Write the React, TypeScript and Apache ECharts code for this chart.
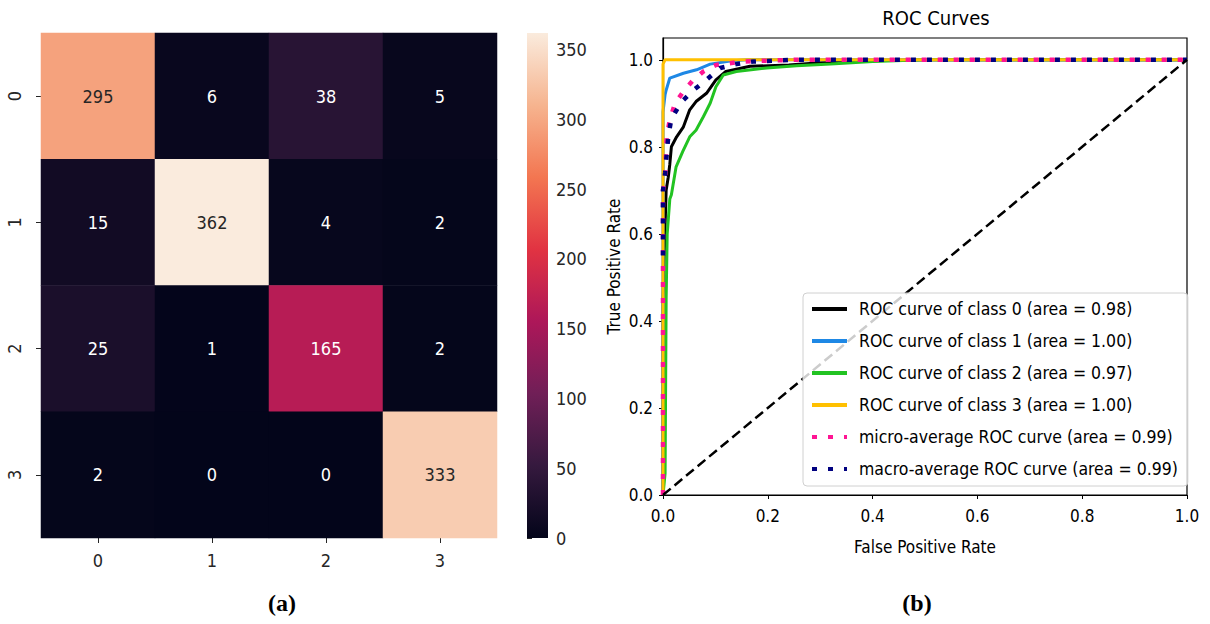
import React, { useEffect, useRef } from "react";
import * as echarts from "echarts";

// ---------- data ----------
const categories = ["0", "1", "2", "3"];
const confusion = [
  [295, 6, 38, 5],
  [15, 362, 4, 2],
  [25, 1, 165, 2],
  [2, 0, 0, 333],
];
const cbMax = 362;
const cbTicks = [0, 50, 100, 150, 200, 250, 300, 350];
const rocTicks = [0, 0.2, 0.4, 0.6, 0.8, 1.0];

const rocket = ["#03051A", "#35193E", "#701F57", "#AD1759", "#E13342", "#F37651", "#F6B48F", "#FAEBDD"];

const rocNames = [
  "ROC curve of class 0 (area = 0.98)",
  "ROC curve of class 1 (area = 1.00)",
  "ROC curve of class 2 (area = 0.97)",
  "ROC curve of class 3 (area = 1.00)",
  "micro-average ROC curve (area = 0.99)",
  "macro-average ROC curve (area = 0.99)",
];

const class0 = [[0, 0], [0, 0.45], [0.004, 0.62], [0.006, 0.70], [0.010, 0.73], [0.013, 0.76], [0.016, 0.80], [0.026, 0.823], [0.039, 0.846], [0.051, 0.885], [0.063, 0.904], [0.083, 0.923], [0.101, 0.954], [0.12, 0.973], [0.166, 0.985], [0.24, 0.988], [0.3, 0.993], [0.4, 0.998], [0.5, 1], [1, 1]];
const class1 = [[0, 0], [0, 0.88], [0.004, 0.92], [0.006, 0.93], [0.013, 0.958], [0.039, 0.969], [0.064, 0.977], [0.09, 0.99], [0.128, 0.997], [0.16, 1], [1, 1]];
const class2 = [[0, 0], [0.004, 0.05], [0.006, 0.45], [0.008, 0.6], [0.013, 0.68], [0.016, 0.69], [0.025, 0.754], [0.038, 0.79], [0.051, 0.823], [0.063, 0.838], [0.077, 0.869], [0.09, 0.90], [0.101, 0.938], [0.115, 0.965], [0.14, 0.973], [0.198, 0.981], [0.255, 0.986], [0.32, 0.99], [0.4, 0.996], [0.5, 1], [1, 1]];
const class3 = [[0, 0], [0, 0.99], [0.004, 1], [1, 1]];
const microAvg = [[0, 0], [0, 0.70], [0.004, 0.723], [0.007, 0.823], [0.013, 0.862], [0.023, 0.90], [0.039, 0.927], [0.058, 0.954], [0.077, 0.973], [0.101, 0.988], [0.152, 0.996], [0.25, 1], [1, 1]];
const macroAvg = [[0, 0.55], [0, 0.70], [0.004, 0.74], [0.01, 0.823], [0.016, 0.865], [0.036, 0.904], [0.058, 0.93], [0.083, 0.954], [0.109, 0.981], [0.14, 0.99], [0.172, 0.996], [0.25, 1], [1, 1]];
const diagonal = [[0, 0], [1, 1]];

const rocColors = ["#000000", "#1E88E5", "#22C322", "#FFC000", "#FF1493", "#000080"];

export default function App() {
  const ref = useRef<HTMLDivElement>(null);

  useEffect(() => {
    if (!ref.current) return;
    const chart = echarts.init(ref.current, undefined, { renderer: "svg" });
    const font = "'DejaVu Sans Condensed', 'Liberation Sans Narrow', 'DejaVu Sans'";
    const txt = "#262626";

    const heatData: any[] = [];
    confusion.forEach((row, r) =>
      row.forEach((v, c) => {
        heatData.push({
          value: [c, r, v],
          label: { color: v > 250 ? txt : "#ffffff" },
        });
      })
    );

    const rocData = [class0, class1, class2, class3, microAvg, macroAvg];
    const rocSeries: any[] = rocData.map((d, i) => ({
      name: rocNames[i],
      type: "line",
      xAxisIndex: 2,
      yAxisIndex: 2,
      data: d,
      symbol: "none",
      showSymbol: false,
      color: rocColors[i],
      lineStyle: i < 4
        ? { color: rocColors[i], width: 3 }
        : { color: rocColors[i], width: 4.5, type: [5, 11], cap: "butt" },
      z: 2,
    }));
    rocSeries.push({
      type: "line",
      xAxisIndex: 2,
      yAxisIndex: 2,
      data: diagonal,
      symbol: "none",
      lineStyle: { color: "#000000", width: 2.5, type: [10, 5] },
      z: 2,
    });

    const gradStops = rocket.map((c, i) => ({ offset: 1 - i / (rocket.length - 1), color: c })).reverse();

    chart.setOption({
      animation: false,
      textStyle: { fontFamily: font },
      title: {
        text: "ROC Curves",
        left: 931,
        top: 3,
        textAlign: "center",
        textStyle: { fontFamily: font, fontSize: 20, fontWeight: "normal", color: "#000" },
      },
      grid: [
        { left: 41, top: 33, width: 456, height: 505 },
        { left: 527, top: 33, width: 21, height: 505 },
        { left: 663, top: 38, width: 524, height: 457, show: true, borderColor: "#000", borderWidth: 1.2, backgroundColor: "transparent" },
      ],
      xAxis: [
        {
          type: "category", gridIndex: 0, data: categories, position: "bottom",
          axisLine: { show: false },
          axisTick: { show: true, alignWithLabel: true, length: 5, lineStyle: { color: txt } },
          axisLabel: { fontSize: 18, color: txt, margin: 13, fontFamily: font },
          splitLine: { show: false },
        },
        { type: "value", gridIndex: 1, show: false, min: 0, max: 1 },
        {
          type: "value", gridIndex: 2, min: 0, max: 1, interval: 0.2,
          axisLine: { show: true, lineStyle: { color: "#000", width: 1.2 } },
          axisTick: { show: true, length: 4, lineStyle: { color: "#000" }, customValues: rocTicks },
          axisLabel: { fontSize: 17, color: "#000", margin: 12, fontFamily: font, customValues: rocTicks, formatter: (v: number) => v.toFixed(1) },
          splitLine: { show: false },
          name: "False Positive Rate", nameLocation: "middle", nameGap: 43,
          nameTextStyle: { fontSize: 17, color: "#000", fontFamily: font },
        },
      ],
      yAxis: [
        {
          type: "category", gridIndex: 0, data: categories, inverse: true,
          axisLine: { show: false },
          axisTick: { show: true, alignWithLabel: true, length: 5, lineStyle: { color: txt } },
          axisLabel: { fontSize: 18, color: txt, rotate: 90, margin: 18, fontFamily: font },
          splitLine: { show: false },
        },
        {
          type: "value", gridIndex: 1, min: 0, max: cbMax, position: "right",
          axisLine: { show: false },
          axisTick: { show: true, length: 5, lineStyle: { color: txt }, customValues: cbTicks },
          axisLabel: { fontSize: 18, color: txt, margin: 8, fontFamily: font, customValues: cbTicks },
          splitLine: { show: false },
        },
        {
          type: "value", gridIndex: 2, min: 0, max: 1.05,
          axisLine: { show: true, lineStyle: { color: "#000", width: 1.2 } },
          axisTick: { show: true, length: 4, lineStyle: { color: "#000" }, customValues: rocTicks },
          axisLabel: { fontSize: 17, color: "#000", margin: 10, fontFamily: font, customValues: rocTicks, formatter: (v: number) => v.toFixed(1) },
          splitLine: { show: false },
          name: "True Positive Rate", nameLocation: "middle", nameGap: 41,
          nameTextStyle: { fontSize: 17, color: "#000", fontFamily: font },
        },
      ],
      visualMap: {
        show: false, type: "continuous", min: 0, max: cbMax, seriesIndex: 0,
        inRange: { color: rocket },
      },
      legend: {
        data: rocNames,
        orient: "vertical",
        left: 803,
        top: 293,
        padding: [7, 10, 8, 7],
        itemGap: 14,
        itemWidth: 35,
        itemHeight: 17,
        itemStyle: { opacity: 0 },
        lineStyle: { width: 4 },
        backgroundColor: "rgba(255,255,255,0.8)",
        borderColor: "#d0d0d0",
        borderWidth: 1,
        borderRadius: 4,
        textStyle: { fontSize: 17.5, color: "#000", fontFamily: font, padding: [0, 0, 0, 7] },
        selectedMode: false,
      },
      graphic: [
        {
          type: "rect",
          shape: { x: 527, y: 33, width: 21, height: 505 },
          style: { fill: new echarts.graphic.LinearGradient(0, 0, 0, 1, gradStops) },
          z: 1,
        },
        {
          type: "text", x: 282, y: 603,
          style: { text: "(a)", font: "bold 24px 'Liberation Serif', 'Times New Roman', serif", fill: "#000", textAlign: "center", textVerticalAlign: "middle" },
        },
        {
          type: "text", x: 917, y: 603,
          style: { text: "(b)", font: "bold 24px 'Liberation Serif', 'Times New Roman', serif", fill: "#000", textAlign: "center", textVerticalAlign: "middle" },
        },
      ],
      series: [
        {
          type: "heatmap",
          xAxisIndex: 0,
          yAxisIndex: 0,
          data: heatData,
          label: { show: true, fontSize: 18, fontFamily: font, formatter: (p: any) => String(p.value[2]) },
          itemStyle: { borderWidth: 0 },
          emphasis: { disabled: true },
        },
        ...rocSeries,
      ],
    });

    return () => chart.dispose();
  }, []);

  return (
    <div
      ref={ref}
      style={{ position: "fixed", left: 0, top: 0, width: 1210, height: 624, background: "#fff" }}
    />
  );
}
